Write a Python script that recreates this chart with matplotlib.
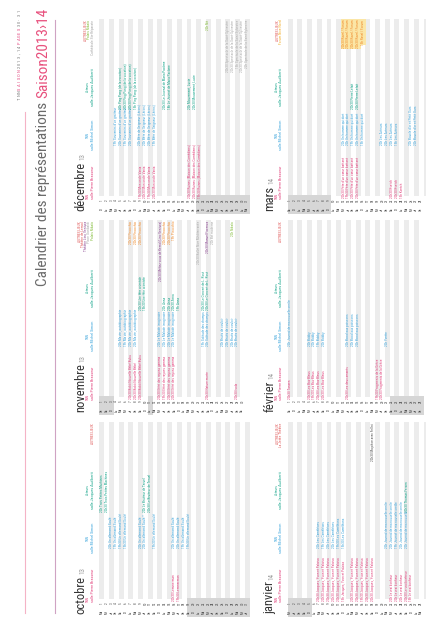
import datetime

import matplotlib.pyplot as plt
from matplotlib import font_manager

# police étroite si dispo (le document d'origine est en "condensed light")
_installed = {f.name for f in font_manager.fontManager.ttflist}
NARROW = next((f for f in ['Liberation Sans Narrow', 'Roboto Condensed', 'Open Sans Condensed']
               if f in _installed), 'DejaVu Sans')
plt.rcParams['font.family'] = [NARROW, 'DejaVu Sans']

# ---- données ----
MONTHS = ['octobre', 'novembre', 'décembre', 'janvier', 'février', 'mars']
MONTH_YEAR = ['13', '13', '13', '14', '14', '14']
MONTH_NUM = [10, 11, 12, 1, 2, 3]
YEARS = [2013, 2013, 2013, 2014, 2014, 2014]
MONTH_DAYS = [31, 30, 31, 31, 28, 31]
# jours de vacances / fériés (case grisée)
HOLIDAYS = [list(range(19, 32)), [1, 2, 3, 11], list(range(21, 32)),
            [1, 2, 3, 4, 5], list(range(22, 29)), [1, 2, 3, 4, 5, 6, 7, 8, 9]]

COL_HEADERS = [('TNN', 'salle Pierre Brasseur', 'p'),
               ('TNN', 'salle Michel Simon', 'b'),
               ('Acteurs', 'salle Jacques Audiberti', 't')]
OTHER_PLACES = [
    [('AUTRES LIEUX', 'r')],
    [('AUTRES LIEUX', 'r'), ('Théâtre de Lenval', 'r'), ('Théâtre Lino Ventura', 'v'),
     ('Place Garibaldi', 'g'), ('Palais Nikaïa', 'n')],
    [('AUTRES LIEUX', 'r'), ('Palais Nikaïa', 'n'), ('Cathédrale Ste-Réparate', 'g')],
    [('AUTRES LIEUX', 'r'), ('La Jetée Théâtre', 'r')],
    [('AUTRES LIEUX', 'r')],
    [('AUTRES LIEUX', 'r'), ('Forum Nice Nord', 'y')],
]

# (jour, colonne, texte, couleur)
OCT_EVENTS = [
    (1, 3, '20h Trois Petites Machines', 't'), (2, 3, '20h30 Trois Petites Machines', 't'),
    (3, 2, '20h Un allemand Soulé', 'b'), (4, 2, '19h Un allemand Soulé', 'b'),
    (5, 2, '19h30 Un allemand Soulé', 'b'), (6, 2, '15h30 Un allemand Soulé', 'b'),
    (9, 2, '20h Un allemand Soulé', 'b'), (10, 2, '20h Un allemand Soulé *', 'b'),
    (10, 3, '20h Le Bruiteur de Teruel', 't'), (11, 3, '20h30 Le Bruiteur de Teruel', 't'),
    (12, 2, '19h30 Un allemand Soulé', 'b'),
    (16, 1, '20h30 Lemmerman', 'p'), (17, 1, '19h30 Lemmerman', 'p'),
    (16, 2, '20h Un allemand Soulé', 'b'), (17, 2, '20h Un allemand Soulé', 'b'),
    (18, 2, '19h Un allemand Soulé', 'b'), (19, 2, '19h30 Un allemand Soulé', 'b'),
]
NOV_EVENTS = [
    (5, 2, '20h Ma vie, autobiographie', 'b'), (6, 2, '19h Ma vie, autobiographie', 'b'),
    (7, 2, '20h Ma vie, autobiographie', 'b'), (8, 2, '20h Ma vie, autobiographie', 'b'),
    (7, 1, '20h30 Bobó Nouvelle Bébé Bubu', 'p'), (8, 1, '20h30 Bobó Nouvelle Bébé', 'p'),
    (9, 1, '20h30 Bobó Nouvelle Bébé Bubu', 'p'),
    (9, 3, '20h30 Une fête orientale', 't'), (10, 3, '15h30 Une fête orientale', 't'),
    (7, 4, '20h30 Pinocchio', 'o'), (8, 4, '20h30 Pinocchio', 'o'), (9, 4, '20h30 Pinocchio', 'o'),
    (13, 1, '20h30 Effet des rayons gamma', 'p'), (14, 1, '19h30 Effet des rayons gamma', 'p'),
    (15, 1, '20h30 Effet des rayons gamma', 'p'), (16, 1, '20h30 Effet des rayons gamma', 'p'),
    (13, 2, '20h Le Malade imaginaire', 'b'), (14, 2, '20h Le Malade imaginaire', 'b'),
    (15, 2, '20h Le Malade imaginaire', 'b'), (16, 2, '20h Le Malade imaginaire', 'b'),
    (14, 3, '20h Anna', 't'), (15, 3, '20h Anna', 't'), (16, 3, '20h30 Anna', 't'), (17, 3, '19h Anna', 't'),
    (13, 4, '20h30 Méfiez-vous de Kemal (Lino Ventura)', 'v'),
    (14, 4, '20h30 Pinocchio', 'o'), (15, 4, '20h30 Pinocchio', 'o'), (16, 4, '19h Pinocchio', 'o'),
    (21, 4, '20h30 Ballet Nice Méditerranée', 'g'),
    (22, 2, '19h Solitude des champs', 'b'),
    (23, 2, '20h Solitude des champs', 'b'),
    (22, 3, '20h30 Le Concert de L. Rost', 't'),
    (23, 3, '20h30 Le Concert de L. Rost', 't'),
    (23, 1, '20h30 Nature morte', 'p'), (23, 4, '20h30 Manuel Fiorenza', 'v'),
    (24, 4, '20h Bal moderne', 'g'),
    (26, 2, '20h Bruits de couloir', 'b'), (27, 2, '20h Bruits de couloir', 'b'),
    (28, 2, '20h Bruits de couloir', 'b'), (29, 2, '20h Bruits de couloir', 'b'),
    (29, 1, '20h30 Isola', 'p'), (28, 4, '20h Nikaïa', 'n'),
]
DEC_EVENTS = [
    (4, 2, '19h Souvenirs d’un gratteur', 'b'), (5, 2, '20h Souvenirs d’un gratteur', 'b'),
    (6, 2, '19h Souvenirs d’un gratteur', 'b'), (7, 2, '20h Souvenirs d’un gratteur', 'b'),
    (5, 3, '20h Ping Pong (de la vocation)', 't'), (6, 3, '20h30 Ping Pong (de la vocation)', 't'),
    (7, 3, '20h30 Ping Pong (de la vocation)', 't'), (8, 3, '15h Ping Pong (de la vocation)', 't'),
    (9, 1, '19h30 Mon oncle Vania', 'p'), (10, 1, '20h30 Mon oncle Vania', 'p'),
    (11, 1, '19h30 Mon oncle Vania', 'p'), (12, 1, '20h30 Mon oncle Vania', 'p'),
    (9, 2, '20h Bête de Seigneur (Lérins)', 'b'), (10, 2, '20h Bête de Seigneur (Lérins)', 'b'),
    (11, 2, '20h Bête de Seigneur (Lérins)', 'b'), (12, 2, '19h Bête de Seigneur (Lérins)', 'b'),
    (14, 3, '20h30 Le Journal de Maria Pacôme', 't'), (15, 3, '18h Le Journal de Maria Pacôme', 't'),
    (19, 1, '20h30 Ruines (Maison des Comédiens)', 'p'), (20, 1, '20h30 Ruines (Maison des Comédiens)', 'p'),
    (21, 1, '19h30 Ruines (Maison des Comédiens)', 'p'),
    (19, 3, '20h Mouvement, Lucie', 't'), (20, 3, '20h30 Mouvement, Lucie', 't'),
    (23, 4, '20h Nit', 'n'),
    (27, 4, '20h30 Spectacle de la Saint-Sylvestre', 'g'), (28, 4, '20h30 Spectacle de la Saint-Sylvestre', 'g'),
    (29, 4, '15h Spectacle de la Saint-Sylvestre', 'g'), (30, 4, '20h30 Spectacle de la Saint-Sylvestre', 'g'),
    (31, 4, '22h Spectacle de la Saint-Sylvestre', 'g'),
]
JAN_EVENTS = [
    (7, 1, '20h30 Jacques, Yvon et Palaisa', 'p'), (8, 1, '20h30 Jacques, Yvon et Palaisa', 'p'),
    (9, 1, '20h30 Jacques, Yvon et Palaisa', 'p'), (10, 1, '20h30 Jacques, Yvon et Palaisa', 'p'),
    (11, 1, '20h30 Jacques, Yvon et Palaisa', 'p'), (12, 1, '15h Jacques, Yvon et Palaisa', 'p'),
    (7, 2, '20h Les Caméléons', 'b'), (8, 2, '19h Les Caméléons', 'b'), (9, 2, '20h Les Caméléons', 'b'),
    (10, 2, '20h Les Caméléons', 'b'), (11, 2, '19h30 Les Caméléons', 'b'), (12, 2, '15h30 Les Caméléons', 'b'),
    (14, 1, '20h30 Jacques, Yvon et Palaisa', 'p'), (15, 1, '20h30 Jacques, Yvon et Palaisa', 'p'),
    (16, 1, '19h30 Jacques, Yvon et Palaisa', 'p'), (17, 1, '20h30 Jacques, Yvon et Palaisa', 'p'),
    (18, 1, '20h30 Jacques, Yvon et Palaisa', 'p'),
    (18, 4, '20h30 Ma pièce avec Fellini', 'k'),
    (21, 2, '20h Journal de ma nouvelle oreille', 'b'), (22, 2, '20h Journal de ma nouvelle oreille', 'b'),
    (23, 2, '19h Journal de ma nouvelle oreille', 'b'), (24, 2, '20h Journal de ma nouvelle oreille', 'b'),
    (25, 2, '20h Journal de ma nouvelle', 'b'),
    (22, 1, '20h Le vrai bonheur', 'p'), (23, 1, '20h Le vrai bonheur', 'p'), (24, 1, '20h Le vrai bonheur', 'p'),
    (25, 1, '20h30 Le vrai bonheur', 'p'), (26, 1, '15h Le vrai bonheur', 'p'),
    (25, 3, '20h30 Thomas Fersen', 't'),
]
FEB_EVENTS = [
    (1, 1, '20h30 Tanzen', 'p'), (1, 2, '20h Journal de ma nouvelle oreille', 'b'),
    (5, 1, '20h30 Les Bas-Bleus', 'p'), (6, 1, '19h30 Les Bas-Bleus', 'p'),
    (7, 1, '20h30 Les Bas-Bleus', 'p'), (8, 1, '20h30 Les Bas-Bleus', 'p'),
    (5, 2, '20h Bobby', 'b'), (6, 2, '20h Bobby', 'b'), (7, 2, '19h Bobby', 'b'), (8, 2, '20h Bobby', 'b'),
    (13, 1, '20h30 Les deux amants', 'p'),
    (13, 2, '20h Bocal aux poissons', 'b'), (14, 2, '20h Bocal aux poissons', 'b'),
    (15, 2, '20h Bocal aux poissons', 'b'),
    (19, 1, '19h30 Fragments de la Grèce', 'p'), (20, 1, '20h30 Fragments de la Grèce', 'p'),
    (21, 2, '20h Yvette', 'b'),
]
MAR_EVENTS = [
    (12, 1, '20h30 Fête d’un cœur battant', 'p'), (13, 1, '19h30 Fête d’un cœur battant', 'p'),
    (14, 1, '20h30 Fête d’un cœur battant', 'p'), (15, 1, '20h30 Fête d’un cœur battant', 'p'),
    (12, 2, '20h Un homme qui dort', 'b'), (13, 2, '20h Un homme qui dort', 'b'),
    (14, 2, '19h Un homme qui dort', 'b'), (15, 2, '20h Un homme qui dort', 'b'),
    (16, 2, '15h Un homme qui dort', 'b'),
    (14, 3, '20h30 Pierre Lefait', 't'), (15, 3, '20h30 Pierre Lefait', 't'),
    (12, 4, '20h30 Ravel / Forum', 'o'), (13, 4, '20h30 Ravel / Forum', 'o'),
    (14, 4, '20h30 Ravel / Forum', 'o'), (15, 4, '20h30 Ravel / Forum', 'o'),
    (16, 4, '15h Ravel / Forum', 'o'),
    (22, 1, '20h30 Kvetch', 'p'), (23, 1, '20h30 Kvetch', 'p'), (24, 1, '15h Kvetch', 'p'),
    (20, 2, '20h Les Acteurs', 'b'), (21, 2, '20h Les Acteurs', 'b'),
    (22, 2, '20h Les Acteurs', 'b'), (23, 2, '15h Les Acteurs', 'b'),
    (26, 2, '20h Boucle d’or et Petit Ours', 'b'), (27, 2, '20h Boucle d’or et Petit Ours', 'b'),
]
EVENTS = [OCT_EVENTS, NOV_EVENTS, DEC_EVENTS, JAN_EVENTS, FEB_EVENTS, MAR_EVENTS]

COLORS = {'p': '#e2467f', 'b': '#3fa6dc', 't': '#16a58b', 'o': '#ef8a2b', 'g': '#a9a9a9',
          'v': '#8f4c95', 'n': '#84bd3b', 'k': '#555555', 'y': '#f0a81c', 'r': '#e05a5a'}
DAY_ABBR = ['Lu', 'Ma', 'Me', 'Je', 'Ve', 'Sa', 'Di']

# ---- mise en page (coordonnées en pixels, page tournée de 90°) ----
PANEL_X0 = [101.7, 101.7, 101.7, 290.2, 290.2, 290.2]   # centre de la ligne du 1er
PANEL_YB = [612, 410, 209, 612, 410, 209]                 # bas du tableau
PITCH = 4.85
COL_START = {1: -11, 2: -64, 3: -100, 4: -189}
PAGE_W = 426

fig = plt.figure(figsize=(4.26, 6.4), dpi=100)
ax = fig.add_axes([0, 0, 1, 1])
ax.set_xlim(0, PAGE_W)
ax.set_ylim(640, 0)
ax.axis('off')
renderer = fig.canvas.get_renderer()


def vtext(x, y, s, size, color, ha='left', va='center', **kw):
    return ax.text(x, y, s, rotation=90, rotation_mode='anchor', ha=ha, va=va,
                   fontsize=size, color=color, **kw)


def text_top(t):
    bb = t.get_window_extent(renderer=renderer)
    pts = ax.transData.inverted().transform([[bb.x0, bb.y0], [bb.x1, bb.y1]])
    return min(pts[0][1], pts[1][1])


# en-tête et filets
head = 'TNNSAISON2013›14PAGES30-31'
head_col = ['#777777'] * 3 + ['#e2467f'] * 6 + ['#777777'] * 7 + ['#e2467f'] * 5 + ['#777777'] * 5
for i, (ch, c) in enumerate(zip(head, head_col)):
    vtext(20, 100 - i * 3.5, ch, 3.2, c)
ax.plot([25, 25], [112, 613], color='#f4b3c6', lw=0.8)
ax.plot([55, 55], [20, 613], color='#cfa3c3', lw=0.8)

t1 = vtext(47, 286, 'Calendrier des représentations ', 11, '#6a6a6a', va='baseline')
vtext(47, text_top(t1), 'Saison2013›14', 11, '#e8507d', va='baseline')

for m in range(6):
    x0 = PANEL_X0[m]
    yb = PANEL_YB[m]
    ndays = MONTH_DAYS[m]
    days = list(range(1, ndays + 1))
    xs = [x0 + (d - 1) * PITCH for d in days]

    # bandes grises une ligne sur deux
    odd = [x for d, x in zip(days, xs) if d % 2 == 1]
    ax.bar(odd, 177, bottom=yb - 190, width=PITCH, color='#ececec', lw=0)
    hol = [x0 + (d - 1) * PITCH for d in HOLIDAYS[m]]
    ax.bar(hol, 19, bottom=yb - 14, width=PITCH, color='#d6d6d6', lw=0)

    for d, x in zip(days, xs):
        if x + 1.5 > PAGE_W:   # la page est rognée à droite
            continue
        wd = datetime.date(YEARS[m], MONTH_NUM[m], d).weekday()
        vtext(x, yb, DAY_ABBR[wd], 2.4, '#444444', ha='center')
        vtext(x, yb - 8.5, str(d), 2.4, '#444444', ha='center')

    # mois
    mx = x0 - 17
    tm = vtext(mx, yb + 2, MONTHS[m], 9, '#333333', va='baseline')
    vtext(mx, text_top(tm) - 1.5, MONTH_YEAR[m], 5, '#9a9a9a', va='baseline')

    # titres de colonnes
    h1, h2 = x0 - 13.5, x0 - 9
    for k, (a, b, c) in enumerate(COL_HEADERS):
        if k == 0:
            vtext(h1, yb - 10, a, 2.5, COLORS[c])
            vtext(h2, yb - 10, b, 3, COLORS[c])
        else:
            yc = yb - 74 if k == 1 else yb - 122
            vtext(h1, yc, a, 2.5, COLORS[c], ha='center')
            vtext(h2, yc, b, 3, COLORS[c], ha='center')
    places = OTHER_PLACES[m]
    for j, (s, c) in enumerate(places):
        xj = h2 - (len(places) - 1 - j) * 3.2
        vtext(xj, yb - 189, s, 2.6, COLORS[c], ha='right')

    # représentations
    for d, col, s, c in EVENTS[m]:
        x = x0 + (d - 1) * PITCH
        if x + 1.5 > PAGE_W:
            continue
        ha = 'right' if col == 4 else 'left'
        kw = {}
        if c == 'o' and m == 5:
            kw['bbox'] = dict(facecolor='#fbe6a6', edgecolor='none', pad=0.4)
        vtext(x, yb + COL_START[col], s, 2.5, COLORS[c], ha=ha, **kw)

fig.savefig('out.png', dpi=100)
